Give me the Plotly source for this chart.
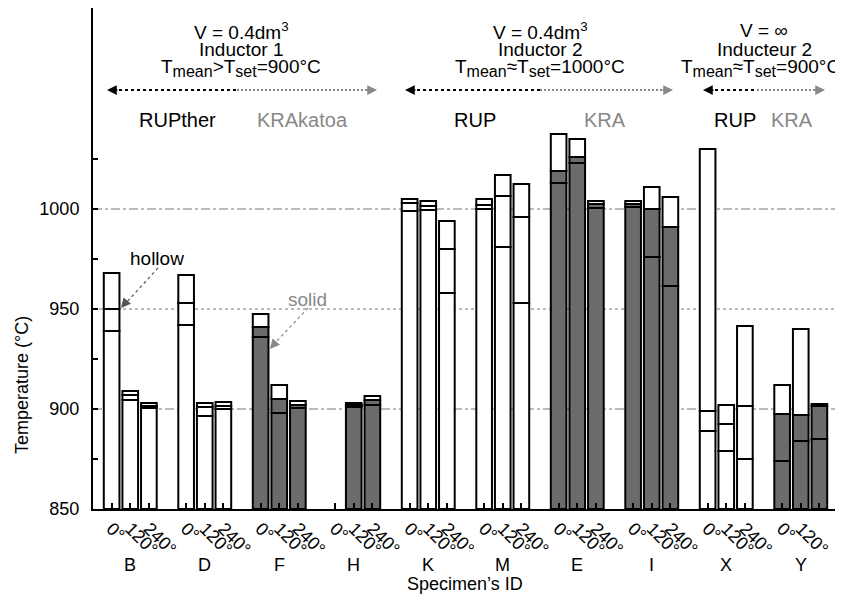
import plotly.graph_objects as go

# ---------------- data ----------------
specimens = ["B", "D", "F", "H", "K", "M", "E", "I", "X", "Y"]
angles = ["0°", "120°", "240°"]
solid_specimens = ["F", "H", "E", "I", "Y"]

# per specimen: [0°, 120°, 240°] values (low line, middle line, top of bar) in °C
t_low = {
    "B": [939, 904.5, 900.5], "D": [942, 896.5, 900], "F": [936, 898, 900.5],
    "H": [None, 901, 902], "K": [999, 999.5, 958], "M": [1000, 981, 953],
    "E": [1013, 1023, 1000.5], "I": [1001, 976, 961.5], "X": [889, 879, 875],
    "Y": [874, 884, 885],
}
t_mid = {
    "B": [950, 907, 901.5], "D": [953, 901, 901.5], "F": [941, 905, 902],
    "H": [None, 902, 904.5], "K": [1003, 1001.5, 980], "M": [1002, 1006.5, 996],
    "E": [1019, 1026, 1002.5], "I": [1002.5, 1000, 991], "X": [899, 892.5, 901.5],
    "Y": [897.5, 897, 901.5],
}
t_top = {
    "B": [968, 909, 903], "D": [967, 903, 903.5], "F": [947.5, 912, 904],
    "H": [None, 903, 906.5], "K": [1005, 1004, 994], "M": [1005, 1017, 1012.5],
    "E": [1037.5, 1035, 1004], "I": [1004, 1011, 1006], "X": [1030, 902, 941.5],
    "Y": [912, 940, 902.5],
}
y_base = 850
y_ticks = [850, 875, 900, 925, 950, 975, 1000, 1025]
y_ticklabels = ["850", "", "900", "", "950", "", "1000", ""]

# ---------------- build ----------------
DARK = "#6b6b6b"
WHITE = "#ffffff"
xs, lows, mids, tops, fills, tvals, ttext = [], [], [], [], [], [], []
for g, s in enumerate(specimens):
    for k, a in enumerate(angles):
        x = 4 * g + k
        tvals.append(x)
        ttext.append(a)
        if t_top[s][k] is None:
            continue
        xs.append(x)
        lows.append(t_low[s][k])
        mids.append(t_mid[s][k])
        tops.append(t_top[s][k])
        fills.append(DARK if s in solid_specimens else WHITE)

line = dict(color="black", width=2)
W = 0.84
fig = go.Figure()
fig.add_trace(go.Bar(x=xs, y=[l - y_base for l in lows], base=y_base, width=W,
                     marker=dict(color=fills, line=line), hoverinfo="skip"))
fig.add_trace(go.Bar(x=xs, y=[m - l for m, l in zip(mids, lows)], base=lows, width=W,
                     marker=dict(color=fills, line=line), hoverinfo="skip"))
fig.add_trace(go.Bar(x=xs, y=[t - m for t, m in zip(tops, mids)], base=mids, width=W,
                     marker=dict(color=WHITE, line=line), hoverinfo="skip"))

FONT = "Liberation Sans, Arial, Helvetica, sans-serif"

# the page body adds an 8px margin; the plot area lands at x 93..838, y 8..509 of the window
def fx(px):
    return (px - 93) / 745.0

def fy(py):
    return (509 - py) / 501.0

shapes = []
for yv, dash in [(900, "dashdot"), (1000, "dashdot"), (950, "dot")]:
    shapes.append(dict(type="line", xref="paper", yref="y", x0=0, x1=1, y0=yv, y1=yv,
                       line=dict(color="#777777", width=1, dash=dash), layer="below"))

annotations = []

def txt(px, py, text, color="black", size=19, xanchor="center"):
    annotations.append(dict(xref="paper", yref="paper", x=fx(px), y=fy(py), text=text,
                            showarrow=False, font=dict(family=FONT, size=size, color=color),
                            xanchor=xanchor, yanchor="middle"))

def arrowhead(tipx, tipy, dx, dy, color):
    annotations.append(dict(xref="paper", yref="paper", x=fx(tipx), y=fy(tipy), text="",
                            showarrow=True, arrowhead=2, arrowsize=1.3, arrowwidth=1.5,
                            arrowcolor=color, ax=dx, ay=dy))

def seg(x0, y0, x1, y1, color, dash, width=2):
    shapes.append(dict(type="line", xref="paper", yref="paper", x0=fx(x0), y0=fy(y0),
                       x1=fx(x1), y1=fy(y1), line=dict(color=color, width=width, dash=dash)))

SUB = '<sub><span style="font-size:16px">%s</span></sub>'
# header blocks
headers = [
    (241, 241, ["V = 0.4dm<sup>3</sup>", "Inductor 1", "T" + SUB % "mean" + ">T" + SUB % "set" + "=900°C"],
     (107, 237, 377), ("RUPther", 177), ("KRAkatoa", 302)),
    (540, 540, ["V = 0.4dm<sup>3</sup>", "Inductor 2", "T" + SUB % "mean" + "≈T" + SUB % "set" + "=1000°C"],
     (405, 540, 673), ("RUP", 475), ("KRA", 605)),
    (764, 760, ["V = ∞", "Inducteur 2", "T" + SUB % "mean" + "≈T" + SUB % "set" + "=900°C"],
     (703, 757, 825), ("RUP", 735), ("KRA", 792)),
]
for cx, cx3, lines, (ax0, axm, ax1), (lt, lx), (rt, rx) in headers:
    txt(cx, 31, lines[0])
    txt(cx, 49, lines[1])
    txt(cx3, 68, lines[2])
    seg(ax0 + 6, 90, axm, 90, "black", "3px,3px")
    seg(axm, 90, ax1 - 6, 90, "#888888", "2px,2px")
    arrowhead(ax0, 90, 12, 0, "black")
    arrowhead(ax1, 90, -12, 0, "#888888")
    txt(lx, 120, lt, "black", 20)
    txt(rx, 120, rt, "#888888", 20)

# hollow / solid callouts
txt(157, 258, "hollow", "black")
seg(158, 268, 125, 304, "#555555", "3px,3px", 1.2)
arrowhead(121, 308, 5, -6, "#555555")
txt(307, 299, "solid", "#888888")
seg(308, 308, 273, 345, "#888888", "3px,3px", 1.2)
arrowhead(270, 349, 5, -6, "#888888")

# specimen letters and axis titles
for g, s in enumerate(specimens):
    annotations.append(dict(xref="x", yref="paper", x=4 * g + 1, y=fy(565), text=s,
                            showarrow=False, font=dict(family=FONT, size=18, color="black"),
                            xanchor="center", yanchor="middle"))
txt(465, 584, "Specimen’s ID", size=18)
annotations.append(dict(xref="paper", yref="paper", x=fx(22), y=fy(385),
                        text="Temperature (°C)", textangle=-90, showarrow=False,
                        font=dict(family=FONT, size=18, color="black"),
                        xanchor="center", yanchor="middle"))

fig.update_layout(
    width=835, height=588,
    margin=dict(l=85, r=5, t=0, b=87),
    barmode="overlay",
    showlegend=False,
    plot_bgcolor="white", paper_bgcolor="white",
    font=dict(family=FONT, size=18, color="black"),
    shapes=shapes,
    annotations=annotations,
    xaxis=dict(range=[-1, 39], tickmode="array", tickvals=tvals, ticktext=ttext,
               tickangle=45, ticks="inside", ticklen=6, tickwidth=1.5, tickcolor="black",
               showline=True, linecolor="black", linewidth=2, showgrid=False, zeroline=False,
               tickfont=dict(family=FONT, size=18)),
    yaxis=dict(range=[850, 1100.5], tickmode="array", tickvals=y_ticks, ticktext=y_ticklabels,
               ticks="inside", ticklen=5, tickwidth=1.5, tickcolor="black",
               showline=True, linecolor="black", linewidth=2, showgrid=False, zeroline=False,
               tickfont=dict(family=FONT, size=18), ticklabelstandoff=8),
)

fig.write_html("out.html")
